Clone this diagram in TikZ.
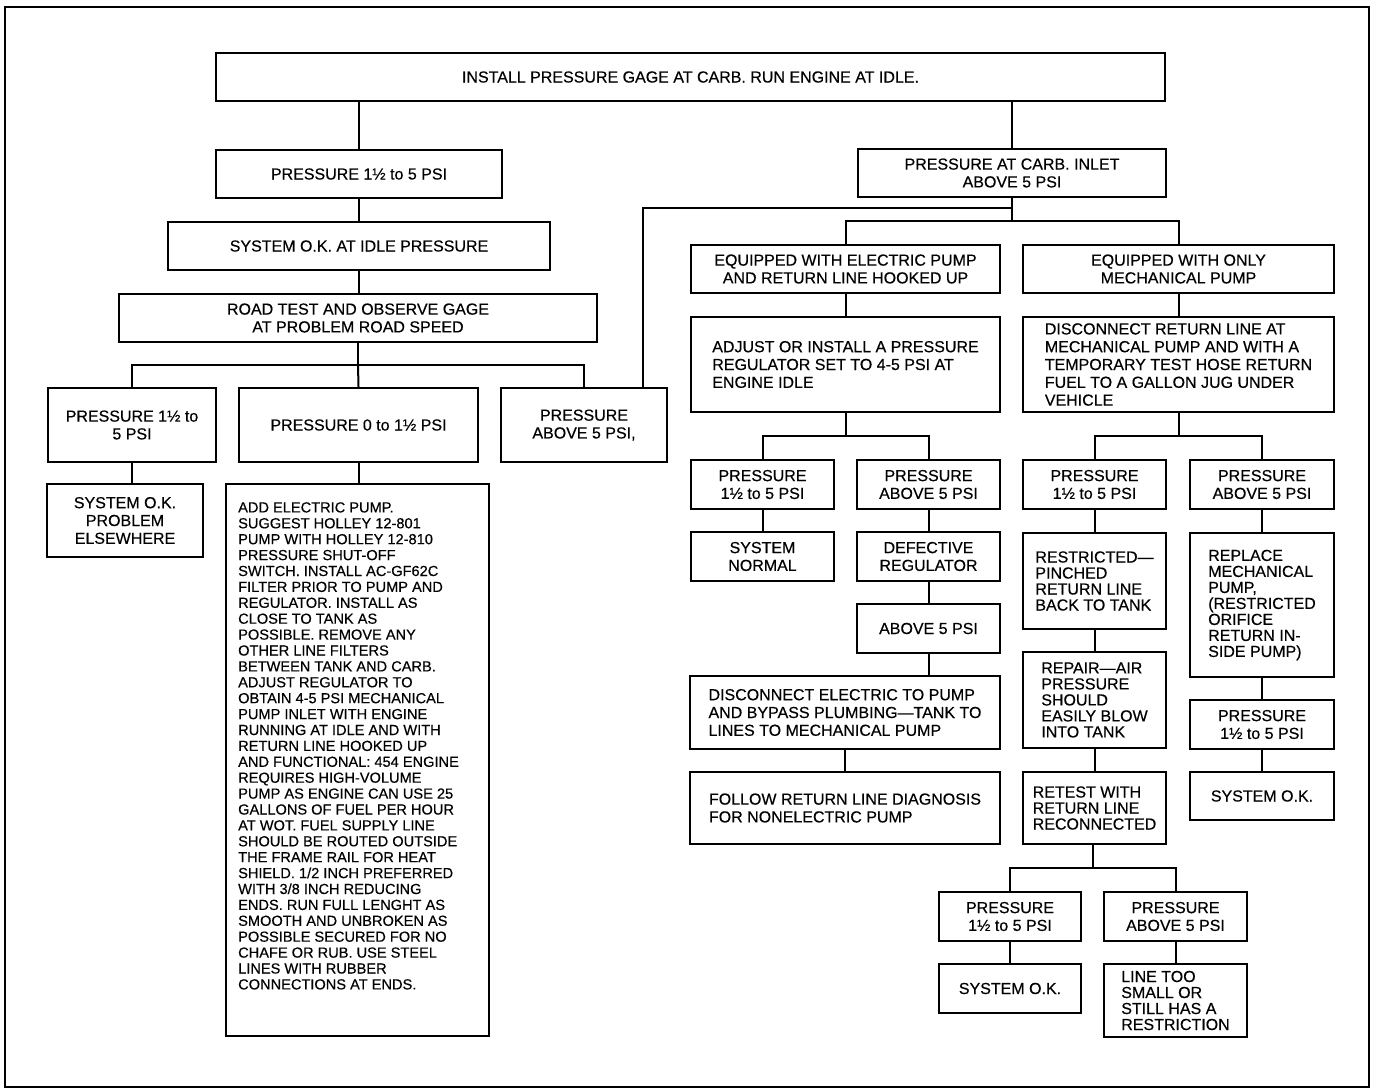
\documentclass[tikz,border=0pt]{standalone}
\usepackage{fontspec}
\setmainfont{Liberation Sans}[FakeBold=0.4]
\usetikzlibrary{calc}

\begin{document}
\begin{tikzpicture}[x=0.5pt, y=-0.5pt,
    box/.style={draw, line width=1.2pt, inner sep=0pt, align=center, font=\fontsize{8}{8.9}\selectfont},
    tight/.style={font=\fontsize{8}{8}\selectfont},
    sz/.style 2 args={minimum width=#1*0.5pt, minimum height=#2*0.5pt},
    link/.style={line width=1pt}]
    \useasboundingbox (0,0) rectangle (1376,1089);
    \draw[line width=1.2pt] (5,7) rectangle (1369,1087);

    \node[box, sz={949}{48}] (top) at (690.5,77) {INSTALL PRESSURE GAGE AT CARB. RUN ENGINE AT IDLE.};
    \node[box, sz={286}{48}] (p1) at (359,174) {PRESSURE 1½ to 5 PSI};
    \node[box, sz={308}{48}] (carb) at (1012,173) {PRESSURE AT CARB. INLET\\ABOVE 5 PSI};
    \node[box, sz={382}{48}] (sysok) at (359,246) {SYSTEM O.K. AT IDLE PRESSURE};
    \node[box, sz={478}{48}] (road) at (358,318) {ROAD TEST AND OBSERVE GAGE\\AT PROBLEM ROAD SPEED};
    \node[box, sz={168}{74}] (b1) at (132,425) {PRESSURE 1½ to\\5 PSI};
    \node[box, sz={239}{74}] (b2) at (358.5,425) {PRESSURE 0 to 1½ PSI};
    \node[box, sz={166}{74}] (b3) at (584,425) {PRESSURE\\ABOVE 5 PSI,};
    \node[box, sz={156}{73}] (okelse) at (125,520.5) {SYSTEM O.K.\\PROBLEM\\ELSEWHERE};
    \node[box, sz={263}{552}] (big) at (357.5,760) {};
    \node[anchor=north west, align=left, inner sep=0pt, font=\fontsize{7.3}{7.95}\selectfont] (bigtext)
        at ([shift={(6.5pt,-9.5pt)}]big.north west)
        {ADD ELECTRIC PUMP.\\SUGGEST HOLLEY 12-801\\PUMP WITH HOLLEY 12-810\\PRESSURE SHUT-OFF\\
         SWITCH. INSTALL AC-GF62C\\FILTER PRIOR TO PUMP AND\\REGULATOR. INSTALL AS\\CLOSE TO TANK AS\\
         POSSIBLE. REMOVE ANY\\OTHER LINE FILTERS\\BETWEEN TANK AND CARB.\\ADJUST REGULATOR TO\\
         OBTAIN 4-5 PSI MECHANICAL\\PUMP INLET WITH ENGINE\\RUNNING AT IDLE AND WITH\\RETURN LINE HOOKED UP\\
         AND FUNCTIONAL: 454 ENGINE\\REQUIRES HIGH-VOLUME\\PUMP AS ENGINE CAN USE 25\\GALLONS OF FUEL PER HOUR\\
         AT WOT. FUEL SUPPLY LINE\\SHOULD BE ROUTED OUTSIDE\\THE FRAME RAIL FOR HEAT\\SHIELD. 1/2 INCH PREFERRED\\
         WITH 3/8 INCH REDUCING\\ENDS. RUN FULL LENGHT AS\\SMOOTH AND UNBROKEN AS\\POSSIBLE SECURED FOR NO\\
         CHAFE OR RUB. USE STEEL\\LINES WITH RUBBER\\CONNECTIONS AT ENDS.};

    \node[box, sz={309}{48}] (elec) at (845.5,269) {EQUIPPED WITH ELECTRIC PUMP\\AND RETURN LINE HOOKED UP};
    \node[box, sz={311}{48}] (mech) at (1178.5,269) {EQUIPPED WITH ONLY\\MECHANICAL PUMP};
    \node[box, sz={309}{95}, align=left] (adjust) at (845.5,364.5)
        {ADJUST OR INSTALL A PRESSURE\\REGULATOR SET TO 4-5 PSI AT\\ENGINE IDLE};
    \node[box, sz={311}{95}, align=left] (discret) at (1178.5,364.5)
        {DISCONNECT RETURN LINE AT\\MECHANICAL PUMP AND WITH A\\TEMPORARY TEST HOSE RETURN\\FUEL TO A GALLON JUG UNDER\\VEHICLE};
    \node[box, sz={143}{49}] (pA) at (762.5,484.5) {PRESSURE\\1½ to 5 PSI};
    \node[box, sz={143}{49}] (pB) at (928.5,484.5) {PRESSURE\\ABOVE 5 PSI};
    \node[box, sz={143}{49}] (pC) at (1094.5,484.5) {PRESSURE\\1½ to 5 PSI};
    \node[box, sz={144}{49}] (pD) at (1262,484.5) {PRESSURE\\ABOVE 5 PSI};
    \node[box, sz={143}{49}] (norm) at (762.5,556.5) {SYSTEM\\NORMAL};
    \node[box, sz={143}{49}] (defreg) at (928.5,556.5) {DEFECTIVE\\REGULATOR};
    \node[box, tight, sz={143}{96}, align=left] (restr) at (1094.5,581)
        {RESTRICTED—\\PINCHED\\RETURN LINE\\BACK TO TANK};
    \node[box, tight, sz={144}{144}, align=left] (repl) at (1262,605)
        {REPLACE\\MECHANICAL\\PUMP,\\(RESTRICTED\\ORIFICE\\RETURN IN-\\SIDE PUMP)};
    \node[box, sz={143}{49}] (ab5) at (928.5,628.5) {ABOVE 5 PSI};
    \node[box, sz={310}{73}, align=left] (discel) at (845,712.5)
        {DISCONNECT ELECTRIC TO PUMP\\AND BYPASS PLUMBING—TANK TO\\LINES TO MECHANICAL PUMP};
    \node[box, sz={310}{72}, align=left] (follow) at (845,808)
        {FOLLOW RETURN LINE DIAGNOSIS\\FOR NONELECTRIC PUMP};
    \node[box, tight, sz={143}{96}, align=left] (repair) at (1094.5,700)
        {REPAIR—AIR\\PRESSURE\\SHOULD\\EASILY BLOW\\INTO TANK};
    \node[box, tight, sz={143}{72}, align=left] (retest) at (1094.5,808)
        {RETEST WITH\\RETURN LINE\\RECONNECTED};
    \node[box, sz={144}{49}] (pD2) at (1262,724.5) {PRESSURE\\1½ to 5 PSI};
    \node[box, sz={144}{48}] (okD) at (1262,796) {SYSTEM O.K.};
    \node[box, sz={142}{49}] (pE) at (1010,916.5) {PRESSURE\\1½ to 5 PSI};
    \node[box, sz={143}{49}] (pF) at (1175.5,916.5) {PRESSURE\\ABOVE 5 PSI};
    \node[box, sz={142}{49}] (okE) at (1010,988.5) {SYSTEM O.K.};
    \node[box, tight, sz={143}{73}, align=left] (lineF) at (1175.5,1000.5)
        {LINE TOO\\SMALL OR\\STILL HAS A\\RESTRICTION};

    \coordinate (topfork) at (1012,101);
    \coordinate (roadfork) at (358,365);
    \coordinate (backtap) at (1012,208);
    \coordinate (carbfork) at (1012,221);
    \coordinate (elecfork) at (845.5,436);
    \coordinate (mechfork) at (1178.5,436);
    \coordinate (retestfork) at (1093,868);

    \draw[link] (p1.north) -- (p1.north |- top.south);
    \draw[link] (carb.north) -- (topfork);
    \draw[link] (p1.south) -- (p1.south |- sysok.north);
    \draw[link] (sysok.south) -- (sysok.south |- road.north);
    \draw[link] (road.south) -- (roadfork);
    \draw[link] (b1.north) |- (roadfork) -| (b3.north);
    \draw[link] (roadfork) -- (b2.north);
    \draw[link] (b1.south) -- (b1.south |- okelse.north);
    \draw[link] (b2.south) -- (b2.south |- big.north);

    \draw[link] (carb.south) -- (carbfork);
    \draw[link] (backtap) -| ([xshift=-12.5pt]b3.north east);
    \draw[link] (elec.north) |- (carbfork) -| (mech.north);
    \draw[link] (elec.south) -- (adjust.north);
    \draw[link] (mech.south) -- (discret.north);
    \draw[link] (adjust.south) -- (elecfork);
    \draw[link] (pA.north) |- (elecfork) -| (pB.north);
    \draw[link] (discret.south) -- (mechfork);
    \draw[link] (pC.north) |- (mechfork) -| (pD.north);

    \draw[link] (pA.south) -- (norm.north);
    \draw[link] (pB.south) -- (defreg.north);
    \draw[link] (defreg.south) -- (ab5.north);
    \draw[link] (ab5.south) -- (ab5.south |- discel.north);
    \draw[link] (discel.south) -- (follow.north);
    \draw[link] (pC.south) -- (restr.north);
    \draw[link] (restr.south) -- (repair.north);
    \draw[link] (repair.south) -- (retest.north);
    \draw[link] (pD.south) -- (repl.north);
    \draw[link] (repl.south) -- (pD2.north);
    \draw[link] (pD2.south) -- (okD.north);
    \draw[link] (retest.south -| retestfork) -- (retestfork);
    \draw[link] (pE.north) |- (retestfork) -| (pF.north);
    \draw[link] (pE.south) -- (okE.north);
    \draw[link] (pF.south) -- (lineF.north);
\end{tikzpicture}
\end{document}
